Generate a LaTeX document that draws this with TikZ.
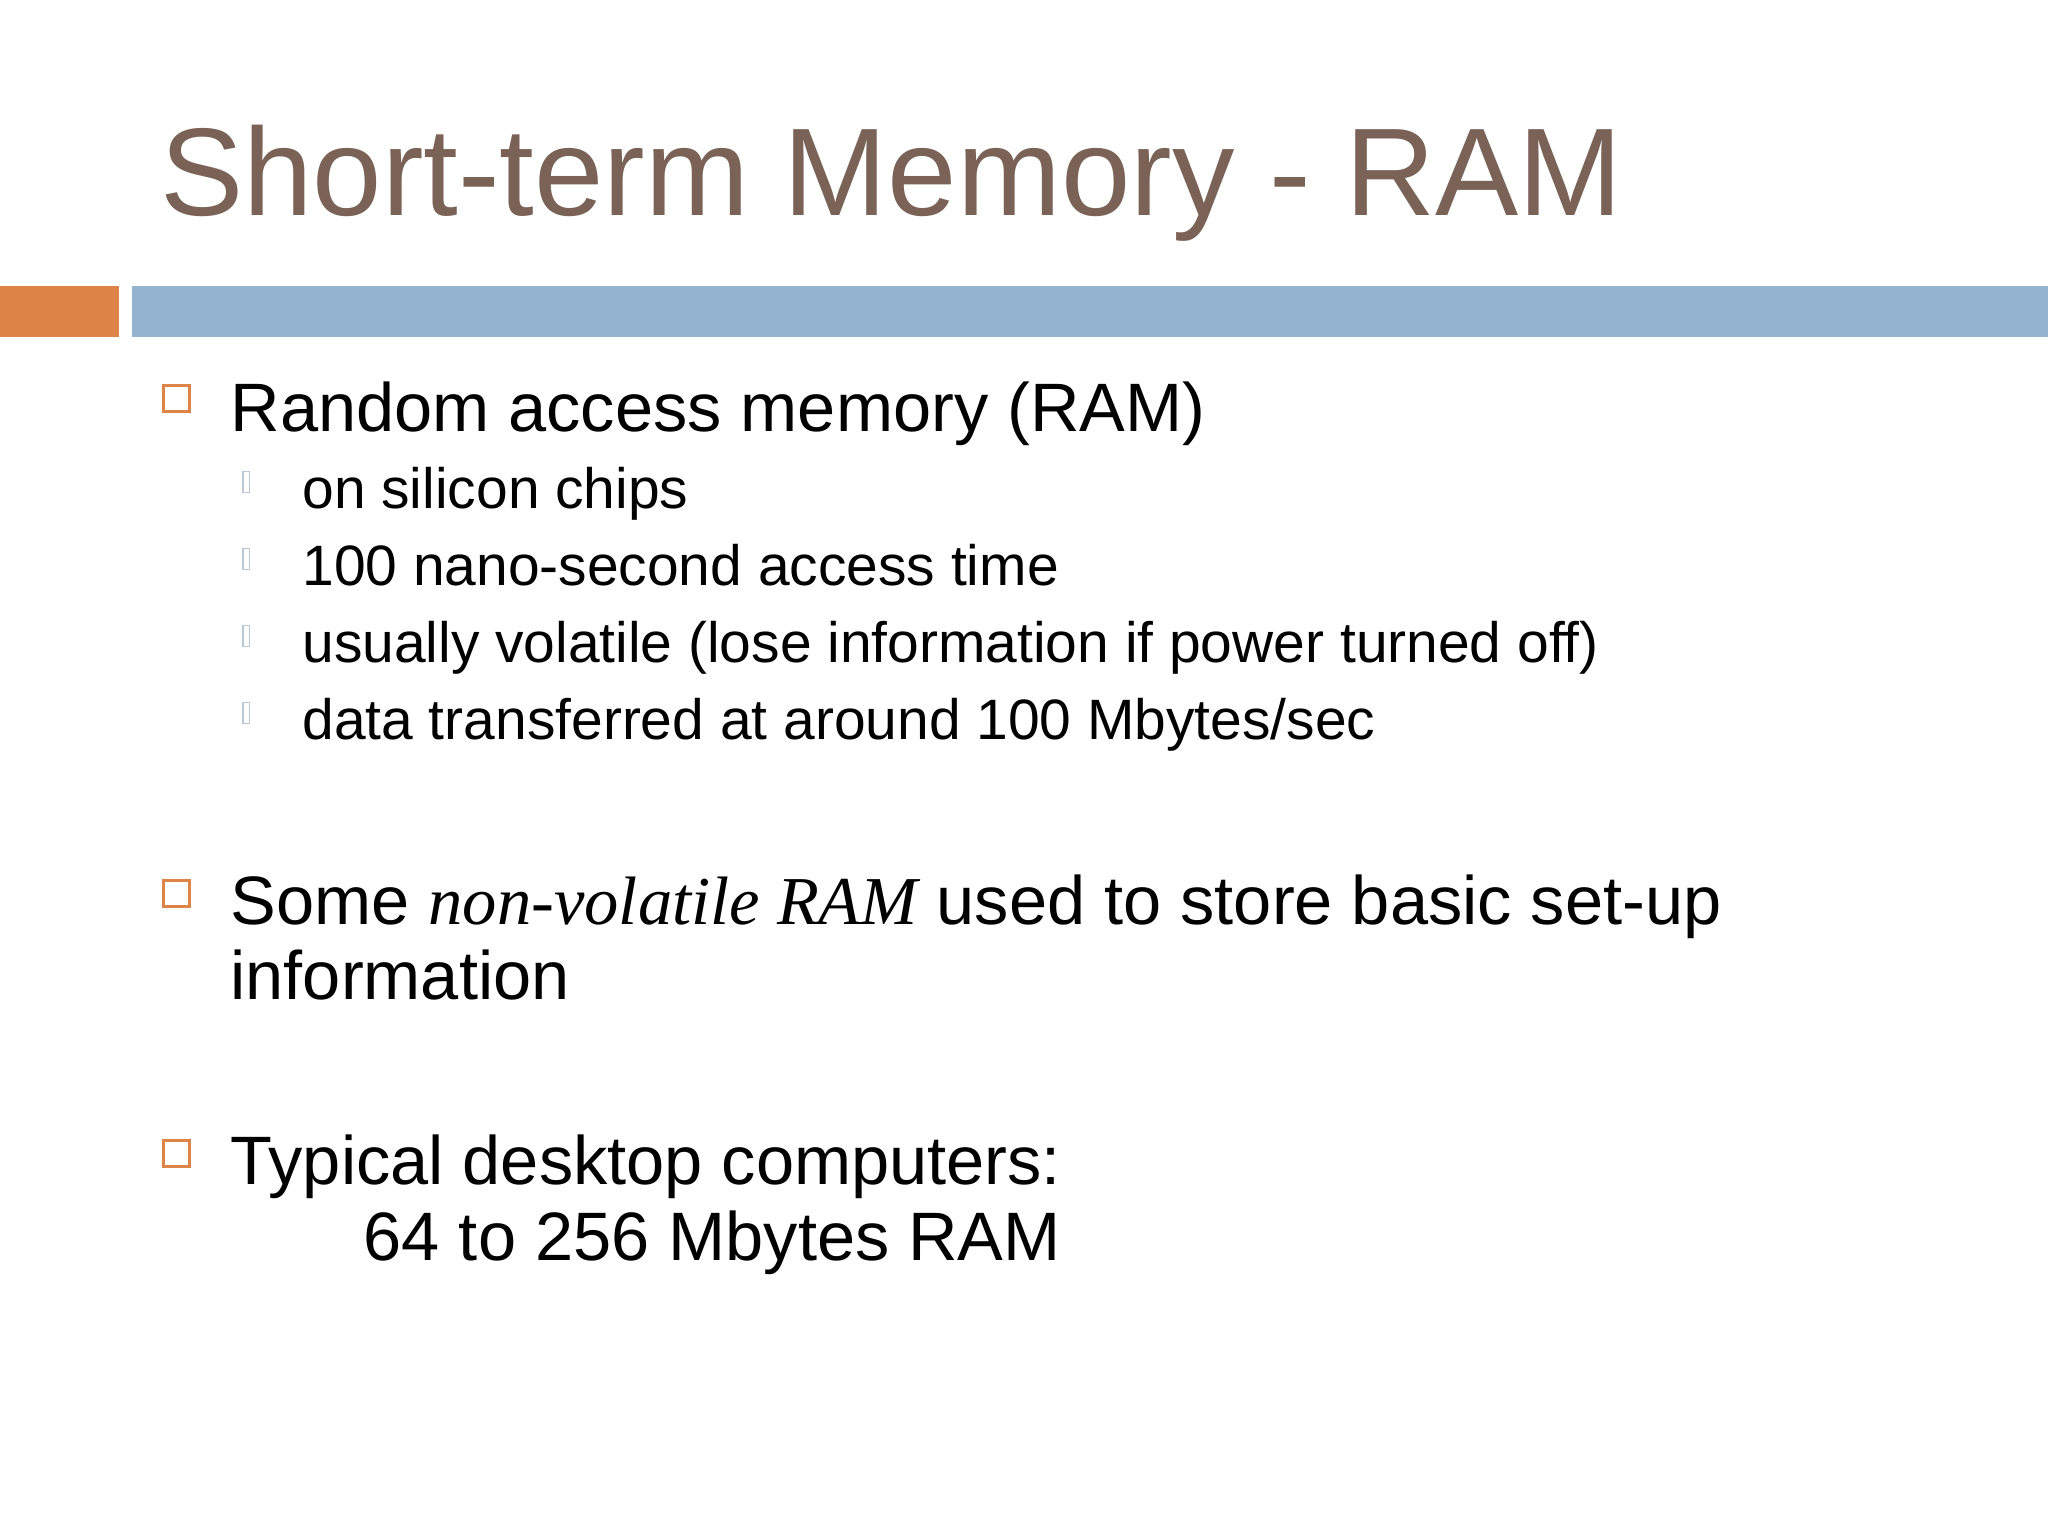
\documentclass[tikz,border=0pt]{standalone}
\usepackage{fontspec}
\setmainfont{Liberation Sans}
\usetikzlibrary{positioning}
\definecolor{titlebrown}{HTML}{7B6257}
\definecolor{barorange}{HTML}{DE8448}
\definecolor{barblue}{HTML}{94B4D0}
\definecolor{subbox}{HTML}{B8C8D8}
\begin{document}
\begin{tikzpicture}[x=0.01306cm,y=-0.01306cm,
  every node/.style={inner sep=0pt,anchor=base west},
  lvlone/.style={font=\fontsize{19.5}{24}\selectfont},
  lvltwo/.style={font=\fontsize{16.2}{19}\selectfont},
  bulletbox/.style={draw=barorange,line width=0.9pt,fill=white},
  subbullet/.style={draw=subbox,line width=0.4pt}]

\useasboundingbox (0,0) rectangle (1568,1176);

% title and bars
\node[font=\fontsize{35.5}{42}\selectfont,text=titlebrown] (title) at (122,165) {Short-term Memory - RAM};
\fill[barorange] (0,219) rectangle (91,258);
\fill[barblue] (101,219) rectangle (1568,258);

% first bullet
\draw[bulletbox] (125,295) rectangle (145,315);
\node[lvlone] (ram) at (176,330) {Random access memory (RAM)};

\foreach \txt [count=\i] in {on silicon chips,
    100 nano-second access time,
    usually volatile (lose information if power turned off),
    data transferred at around 100 Mbytes/sec}{
  \pgfmathsetmacro\yy{389+59*(\i-1)}
  \draw[subbullet] (186,\yy-28) rectangle (191,\yy-12);
  \node[lvltwo] (sub\i) at (231,\yy) {\txt};
}

% second bullet
\draw[bulletbox] (125,674) rectangle (145,694);
\node[lvlone] (nvram) at (176,708) {Some {\fontspec{Liberation Serif}\itshape non-volatile RAM} used to store basic set-up};
\node[lvlone] (nvram2) at (176,765) {information};

% third bullet
\draw[bulletbox] (125,873) rectangle (145,893);
\node[lvlone] (desk) at (176,907) {Typical desktop computers:};
\node[lvlone] (desk2) at (278,965) {64 to 256 Mbytes RAM};

\end{tikzpicture}
\end{document}
